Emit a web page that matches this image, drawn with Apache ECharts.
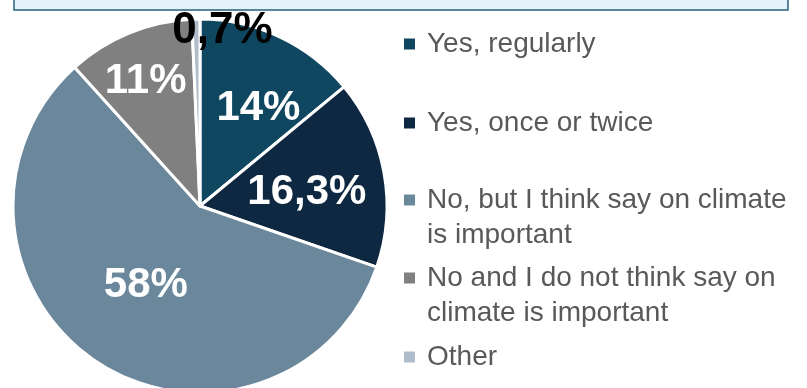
<!DOCTYPE html>
<html>
<head>
<meta charset="utf-8">
<script src="https://cdn.jsdelivr.net/npm/echarts@6/dist/echarts.min.js"></script>
<style>
  html, body { margin: 0; padding: 0; background: #ffffff; }
  #main { width: 807px; height: 388px; }
</style>
</head>
<body>
<div id="main"></div>
<script>
  // data
  const answers = [
    'Yes, regularly',
    'Yes, once or twice',
    'No, but I think say on climate\nis important',
    'No and I do not think say on\nclimate is important',
    'Other'
  ]
  const shares = [14, 16.3, 58, 11, 0.7]

  const colors = ['#0F4761', '#0E2841', '#6A879B', '#808080', '#AEBDC9']

  // label placement: fraction of radius and small angle turn (degrees)
  const labelRadius = [0.59, 0.56, 0.50, 0.71, 0.93]
  const labelTurn = [6, 3, 0.7, -1.3, 8.7]
  const R = 187

  const total = shares.reduce((a, b) => a + b, 0)
  const mids = []
  let acc = 0
  shares.forEach(v => {
    mids.push((acc + v / 2) / total * 360)
    acc += v
  })

  // two-line names get a blank line on top so the marker sits on the first line
  const legendTop = [26.5, 105.5, 147.5, 225.5, 339.5]
  const legends = answers.map((name, i) => ({
    data: [name],
    left: 404,
    top: legendTop[i],
    padding: 0,
    orient: 'vertical',
    itemWidth: 11,
    itemHeight: 11,
    icon: 'rect',
    itemStyle: { borderWidth: 0 },
    selectedMode: false,
    formatter: n => n.indexOf('\n') >= 0 ? ' \n' + n : n,
    textStyle: {
      color: '#595959',
      fontSize: 28,
      lineHeight: 35,
      fontFamily: 'Liberation Sans, Arial, sans-serif',
      padding: [0, 0, 0, 7]
    }
  }))

  const myChart = echarts.init(document.getElementById('main'))
  const option = {
    backgroundColor: '#ffffff',
    animation: false,
    color: colors,
    legend: legends,
    graphic: [{
      type: 'rect',
      shape: { x: 14, y: -20, width: 774, height: 30 },
      style: { fill: '#E6F2FB', stroke: '#2B5F7A', lineWidth: 1.5 }
    }],
    series: [{
      type: 'pie',
      center: [200, 206],
      radius: [0, R],
      startAngle: 90,
      clockwise: true,
      avoidLabelOverlap: false,
      itemStyle: { borderColor: '#ffffff', borderWidth: 3 },
      label: {
        show: true,
        position: 'inside',
        color: '#ffffff',
        fontSize: 42,
        fontWeight: 'bold',
        fontFamily: 'Liberation Sans, Arial, sans-serif',
        formatter: p => String(p.value).replace('.', ',') + '%'
      },
      labelLine: { show: false },
      labelLayout: function (params) {
        const i = params.dataIndex
        const tm = mids[i] * Math.PI / 180
        const tt = (mids[i] + labelTurn[i]) * Math.PI / 180
        const k = labelRadius[i]
        return {
          dx: k * R * Math.sin(tt) - 0.5 * R * Math.sin(tm),
          dy: -k * R * Math.cos(tt) + 0.5 * R * Math.cos(tm)
        }
      },
      data: answers.map((name, i) => {
        const d = { name: name, value: shares[i] }
        if (i === 4) {
          d.label = { color: '#000000', fontSize: 44 }
        }
        return d
      })
    }]
  }
  myChart.setOption(option)
</script>
</body>
</html>
